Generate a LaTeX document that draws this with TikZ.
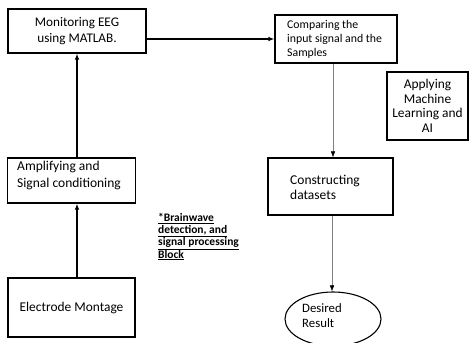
\documentclass[tikz,border=0pt]{standalone}
\usepackage{fontspec}
\setmainfont{Carlito}
\usetikzlibrary{arrows.meta,shapes.geometric}

\tikzset{
  stage/.style={draw, line width=1.1pt, inner sep=0pt, minimum width=#1},
  stage/.default=120pt,
  flow/.style={line width=1.1pt, -{Latex[length=6pt,width=4.5pt]}},
  thinflow/.style={gray, line width=0.5pt, -{Latex[length=6pt,width=4.5pt,black]}}
}

\begin{document}
\begin{tikzpicture}[x=1pt, y=-1pt]
    \useasboundingbox (0,0) rectangle (470,342);
    \node[stage=138pt, minimum height=44pt, font=\fontsize{13.2}{16}\selectfont, align=center] (monitor) at (77,31) {Monitoring EEG\\using MATLAB.};
    \node[stage=128pt, minimum height=45pt] (amplify) at (71.5,180.5) {};
    \node[anchor=north west, font=\fontsize{13.5}{17}\selectfont, align=left, inner sep=0pt] (amplifytext) at (17,161) {Amplifying and\\Signal conditioning};
    \node[stage=127pt, minimum height=59pt, font=\fontsize{13.4}{15}\selectfont] (electrode) at (71.5,307.5) {Electrode Montage};
    \node[stage=122pt, minimum height=48pt] (compare) at (336,39) {};
    \node[anchor=north west, font=\fontsize{11.8}{14.2}\selectfont, align=left, inner sep=0pt] (comparetext) at (287,20) {Comparing the\\input signal and the\\Samples};
    \node[stage=81pt, minimum height=68pt, font=\fontsize{13.4}{14.6}\selectfont, align=center] (learn) at (427.5,106) {Applying\\Machine\\Learning and\\AI};
    \node[stage=125pt, minimum height=57pt] (construct) at (330.5,186.5) {};
    \node[anchor=west, font=\fontsize{13.5}{15.5}\selectfont, align=left, inner sep=0pt] (constructtext) at (290,187.5) {Constructing\\datasets};
    \node[draw, ellipse, line width=1.1pt, minimum width=96pt, minimum height=54pt, inner sep=0pt] (result) at (333,319) {};
    \node[anchor=west, font=\fontsize{12.8}{15}\selectfont, align=left, inner sep=0pt] (resulttext) at (302,316) {Desired\\Result};
    \node[anchor=north west, font=\bfseries\fontsize{11.5}{12.2}\selectfont, align=left, inner sep=0pt] (note) at (158,213) {\underline{*Brainwave}\\\underline{detection, and}\\\underline{signal processing}\\\underline{Block}};
    \draw[flow] (monitor.east |- compare.west) -- (compare.west);
    \draw[flow] (electrode.north -| 77,0) -- (amplify.south -| 77,0);
    \draw[flow] (amplify.north -| monitor.south) -- (monitor.south);
    \draw[thinflow] (compare.south -| 333,0) -- (construct.north -| 333,0);
    \draw[thinflow] (construct.south -| 332,0) -- (result.north -| 332,0);
\end{tikzpicture}
\end{document}
